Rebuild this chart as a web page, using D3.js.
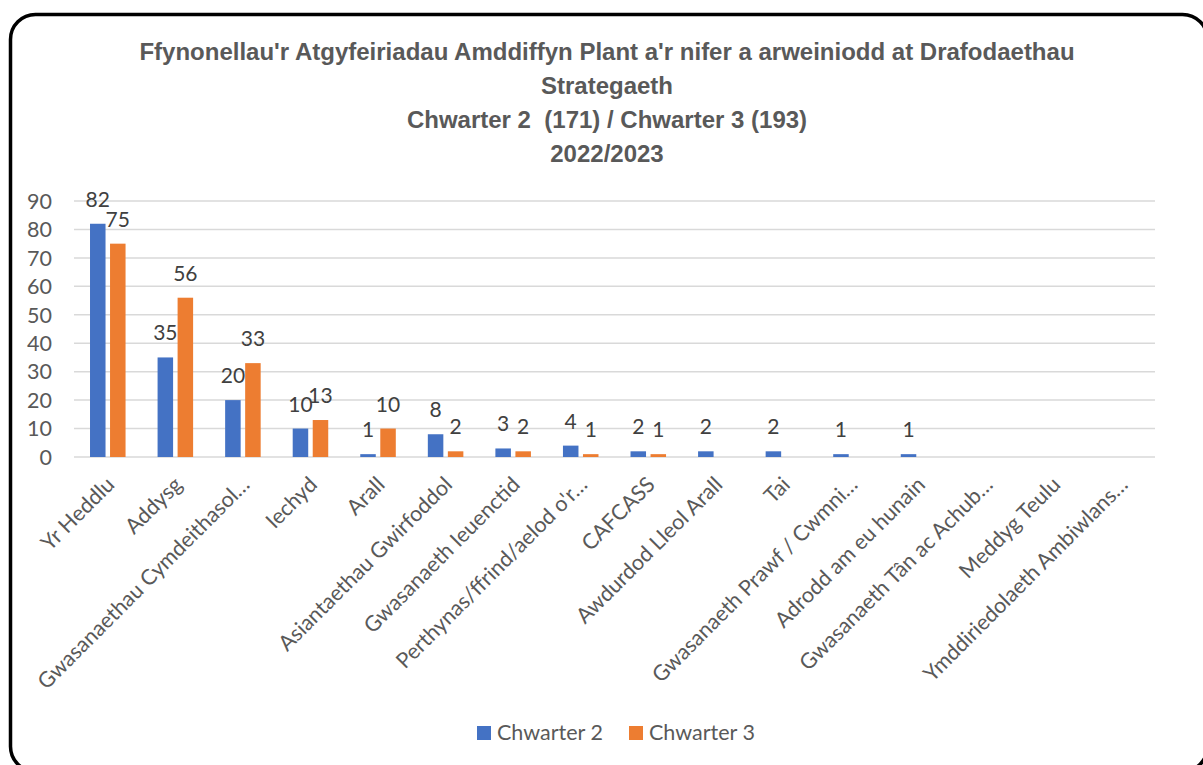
<!DOCTYPE html>
<html>
<head>
<meta charset="utf-8">
<script src="https://cdn.jsdelivr.net/npm/d3@7"></script>
<style>
  body { margin: 0; background: #fff; }
  svg { display: block; }
  text { white-space: pre; }
</style>
</head>
<body>
<div id="chart"></div>
<script>
// categories, as Excel shows them (truncated)
const categories = [
  "Yr Heddlu", "Addysg", "Gwasanaethau Cymdeithasol…", "Iechyd", "Arall",
  "Asiantaethau Gwirfoddol", "Gwasanaeth Ieuenctid", "Perthynas/ffrind/aelod o'r…",
  "CAFCASS", "Awdurdod Lleol Arall", "Tai", "Gwasanaeth Prawf / Cwmni…",
  "Adrodd am eu hunain", "Gwasanaeth Tân ac Achub…", "Meddyg Teulu",
  "Ymddiriedolaeth Ambiwlans…"
];
// null = no bar / no label
const chwarter2 = [82, 35, 20, 10, 1, 8, 3, 4, 2, 2, 2, 1, 1, null, null, null];
const chwarter3 = [75, 56, 33, 13, 10, 2, 2, 1, 1, null, null, null, null, null, null, null];
const seriesNames = ["Chwarter 2", "Chwarter 3"];
const seriesColors = ["#4472c4", "#ed7d31"];
const yTicks = [0, 10, 20, 30, 40, 50, 60, 70, 80, 90];
const titleLines = [
  "Ffynonellau'r Atgyfeiriadau Amddiffyn Plant a'r nifer a arweiniodd at Drafodaethau",
  "Strategaeth",
  "Chwarter 2  (171) / Chwarter 3 (193)",
  "2022/2023"
];

const W = 1203, H = 765;
const svg = d3.select("#chart").append("svg")
    .attr("width", W)
    .attr("height", H);

// rounded frame, runs off the right and bottom
svg.append("rect")
    .attr("x", 10.5).attr("y", 14.5)
    .attr("width", 1197).attr("height", 757)
    .attr("rx", 25).attr("ry", 25)
    .attr("fill", "#fff")
    .attr("stroke", "#000")
    .attr("stroke-width", 3.5);

// title
svg.append("g").selectAll("text")
  .data(titleLines)
  .enter().append("text")
    .attr("x", 607)
    .attr("y", (d, i) => 60 + i * 34)
    .attr("text-anchor", "middle")
    .attr("font-family", "'Liberation Sans', Arial, sans-serif")
    .attr("font-weight", "bold")
    .attr("font-size", 24)
    .attr("fill", "#595959")
    .text(d => d);

const x0 = d3.scaleBand()
    .domain(d3.range(categories.length))
    .range([74, 1155]);

const x1 = d3.scaleBand()
    .domain([0, 1])
    .range([0, x0.bandwidth()])
    .paddingInner(0.225)
    .paddingOuter(0.8);

const y = d3.scaleLinear()
    .domain([0, 90])
    .range([457, 201]);

const font = "Lato, 'Open Sans', sans-serif";

// gridlines
svg.append("g").selectAll("line")
  .data(yTicks)
  .enter().append("line")
    .attr("x1", 74).attr("x2", 1155)
    .attr("y1", d => y(d)).attr("y2", d => y(d))
    .attr("stroke", "#d9d9d9")
    .attr("stroke-width", 1.5);

// y axis labels
svg.append("g").selectAll("text")
  .data(yTicks)
  .enter().append("text")
    .attr("x", 52)
    .attr("y", d => y(d))
    .attr("dy", "0.36em")
    .attr("text-anchor", "end")
    .attr("font-family", font)
    .attr("font-size", 21.5)
    .attr("fill", "#595959")
    .text(d => d);

// bars + value labels
const series = [chwarter2, chwarter3];
series.forEach(function(vals, s) {
  const pts = vals.map((v, i) => ({i: i, v: v})).filter(d => d.v != null);
  const g = svg.append("g");
  g.selectAll("rect")
    .data(pts)
    .enter().append("rect")
      .attr("x", d => x0(d.i) + x1(s))
      .attr("y", d => y(d.v))
      .attr("width", x1.bandwidth())
      .attr("height", d => y(0) - y(d.v))
      .attr("fill", seriesColors[s]);
  g.selectAll("text")
    .data(pts)
    .enter().append("text")
      .attr("x", d => x0(d.i) + x1(s) + x1.bandwidth() / 2)
      .attr("y", d => y(d.v) - 17)
      .attr("text-anchor", "middle")
      .attr("font-family", font)
      .attr("font-size", 21)
      .attr("fill", "#404040")
      .text(d => d.v);
});

// x axis category labels, rotated -45
svg.append("g").selectAll("text")
  .data(categories)
  .enter().append("text")
    .attr("transform", (d, i) => "translate(" + (x0(i) + x0.bandwidth() / 2 + 8) + ",486) rotate(-45)")
    .attr("text-anchor", "end")
    .attr("font-family", font)
    .attr("font-size", 21.5)
    .attr("fill", "#595959")
    .text(d => d);

// legend
const legend = svg.append("g");
const legendX = [477, 629];
seriesNames.forEach(function(name, s) {
  legend.append("rect")
      .attr("x", legendX[s]).attr("y", 726)
      .attr("width", 14).attr("height", 14)
      .attr("fill", seriesColors[s]);
  legend.append("text")
      .attr("x", legendX[s] + 20).attr("y", 740)
      .attr("font-family", font)
      .attr("font-size", 21.5)
      .attr("fill", "#595959")
      .text(name);
});
</script>
</body>
</html>
